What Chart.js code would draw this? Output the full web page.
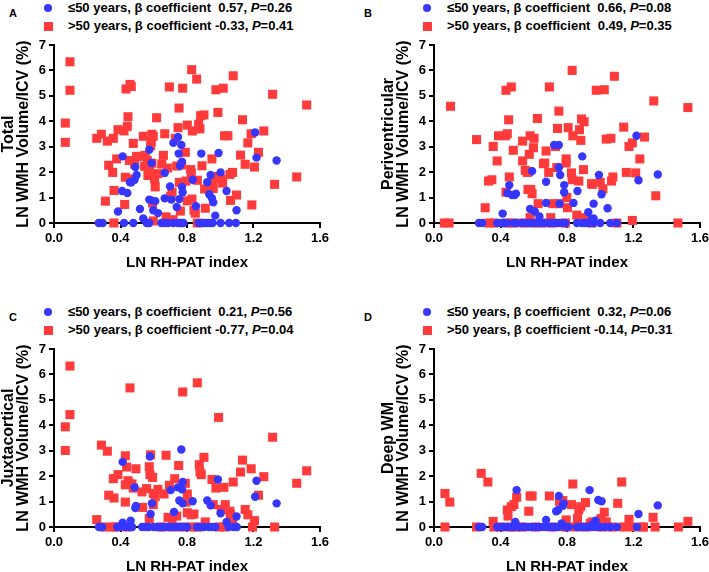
<!DOCTYPE html>
<html>
<head>
<meta charset="utf-8">
<script src="https://cdn.jsdelivr.net/npm/chart.js@4.4.0/dist/chart.umd.min.js"></script>
<style>
  html, body { margin: 0; padding: 0; background: #fff; overflow: hidden; }
  #wrap { position: relative; width: 709px; height: 572px; font-family: "Liberation Sans", Arial, sans-serif; }
  canvas { position: absolute; }
  .letter { position: absolute; font-weight: bold; font-size: 11px; }
  .leg { position: absolute; font-weight: bold; font-size: 13px; line-height: 18px; white-space: pre; }
  .leg .row { position: relative; padding-left: 24px; }
  .leg .dot { position: absolute; left: 0; top: 5px; width: 8px; height: 8px; border-radius: 50%; background: #3636ff; }
  .leg .sq { position: absolute; left: 0; top: 5px; width: 9px; height: 9px; background: #ff3a3a; }
</style>
</head>
<body>
<div id="wrap"></div>
<script>
// x axis ticks and y axis ticks
const xTicks = [0.0, 0.4, 0.8, 1.2, 1.6];
const yTicks = [0, 1, 2, 3, 4, 5, 6, 7];

// panel A: Total  ([LN RH-PAT index, LN WMH volume/ICV])
const totalOld = [[0.068,3.93],[0.068,3.17],[0.096,6.34],[0.096,5.22],[0.257,3.33],[0.285,3.49],[0.309,0.86],[0.321,3.22],
  [0.329,2.27],[0.353,1.99],[0.357,3.33],[0.361,1.28],[0.36,0],[0.377,2.52],[0.385,3.67],[0.421,3.62],[0.429,1.80],[0.425,0.73],
  [0.433,5.27],[0.441,3.80],[0.445,4.18],[0.453,2.46],[0.457,5.45],[0.465,5.37],[0.469,1.73],[0.477,3.13],[0.485,2.31],[0.497,2.62],
  [0.529,2.62],[0.537,3.41],[0.545,2.23],[0.549,2.66],[0.561,2.46],[0.565,1.87],[0.571,2.18],[0.577,1.97],[0.589,3.49],[0.585,3.20],
  [0.581,3.04],[0.589,2.35],[0.593,0.79],[0.597,0.08],[0.597,3.41],[0.605,1.74],[0.609,1.42],[0.617,4.14],[0.625,1.94],[0.648,2.32],
  [0.658,2.66],[0.666,3.51],[0.674,0.24],[0.682,2.16],[0.694,5.35],[0.702,1.05],[0.710,1.21],[0.716,0.13],[0.730,3.33],[0.738,2.24],
  [0.746,3.75],[0.752,4.52],[0.754,1.60],[0.760,0.47],[0.768,2.28],[0.774,5.30],[0.790,2.78],[0.794,1.65],[0.802,3.85],[0.802,0.87],
  [0.822,2.10],[0.826,1.97],[0.828,6.03],[0.830,0.94],[0.832,3.62],[0.842,0.50],[0.850,0.39],[0.858,5.66],[0.862,1.68],[0.862,0],
  [0.870,3.88],[0.878,3.70],[0.882,4.22],[0.890,2.25],[0.902,4.25],[0.906,1.34],[0.910,0.58],[0.950,2.52],[0.954,1.70],[0.958,1.36],
  [0.974,5.24],[0.986,4.35],[0.990,1.83],[1.006,1.73],[1.014,1.57],[1.018,5.30],[1.026,3.43],[1.046,3.43],[1.058,1.91],[1.062,0.89],
  [1.074,1.99],[1.078,5.79],[1.098,1.10],[1.122,2.67],[1.134,4.06],[1.150,2.31],[1.166,3.15],[1.186,3.51],[1.190,0.71],[1.206,2.20],
  [1.230,2.78],[1.262,3.62],[1.315,5.06],[1.327,1.52],[1.460,1.81],[1.520,4.64]];
const totalYoung = [[0.385,0.45],[0.409,1.26],[0.413,2.62],[0.441,1.18],[0.457,1.60],[0.465,1.60],[0.485,1.70],[0.489,2.20],
  [0.497,1.89],[0.517,0.55],[0.537,0.18],[0.573,2.88],[0.573,0.92],[0.585,0.89],[0.587,2.36],[0.597,0.50],[0.609,0.86],[0.625,0.39],
  [0.666,0.97],[0.666,1.97],[0.698,1.44],[0.706,0.92],[0.718,3.15],[0.738,0.63],[0.746,3.38],[0.750,2.73],[0.754,0.94],[0.758,2.25],
  [0.766,3.07],[0.770,2.41],[0.770,1.42],[0.774,1.21],[0.834,1.70],[0.854,0.66],[0.886,2.73],[0.922,1.60],[0.934,1.13],[0.942,1.89],
  [0.950,0.97],[0.958,0.81],[0.970,0.29],[0.990,2.75],[1.002,1.99],[1.038,1.26],[1.098,0.50],[1.210,3.56],[1.218,2.57],[1.339,2.46],
  [0.269,0],[0.293,0],[0.421,0],[0.477,0],[0.557,0],[0.573,0],[0.646,0],[0.662,0],[0.686,0],[0.718,0],[0.746,0],[0.758,0],
  [0.770,0],[0.778,0],[0.870,0],[0.894,0],[0.906,0],[0.926,0],[0.942,0],[0.954,0],[1.002,0],[1.054,0],[1.094,0]];

// panel B: Periventricular
const periOld = [[0.099,4.59],[0.256,3.28],[0.308,0.60],[0.328,1.65],[0.348,1.70],[0.356,3.01],[0.380,2.44],[0.388,3.43],
  [0.429,3.43],[0.433,5.22],[0.441,3.51],[0.449,4.06],[0.453,1.81],[0.433,1.21],[0.465,5.35],[0.477,2.86],[0.533,3.22],[0.533,2.44],
  [0.549,2.07],[0.561,1.99],[0.565,1.32],[0.569,2.02],[0.573,2.70],[0.578,3.43],[0.582,1.32],[0.590,1.15],[0.578,0.21],[0.598,2.96],
  [0.602,3.33],[0.622,4.11],[0.626,0.76],[0.658,2.33],[0.666,2.36],[0.674,2.83],[0.690,1.99],[0.694,5.35],[0.702,0.21],[0.714,0.76],
  [0.731,3.01],[0.739,2.18],[0.743,3.72],[0.751,4.40],[0.755,0.76],[0.795,2.52],[0.795,2.36],[0.799,1.00],[0.803,0.60],[0.807,3.75],
  [0.827,1.97],[0.831,1.70],[0.835,3.43],[0.831,6.00],[0.859,0.31],[0.871,1.65],[0.875,3.67],[0.883,3.25],[0.887,4.09],[0.899,2.10],
  [0.903,3.98],[0.911,0.21],[0.948,1.55],[0.952,1.52],[0.976,5.22],[1.000,1.60],[1.016,1.34],[1.024,5.24],[1.036,3.30],[1.064,3.33],
  [1.068,1.65],[1.076,1.81],[1.085,5.77],[1.141,3.77],[1.157,1.99],[1.173,3.01],[1.193,3.15],[1.193,0.10],[1.213,1.97],[1.238,2.52],
  [1.266,3.38],[1.322,4.80],[1.334,1.07],[1.527,4.54],
  [0.062,0],[0.091,0],[0.33,0],[0.36,0],[0.44,0],[0.478,0],[0.54,0],[0.60,0],[0.65,0],[0.71,0],[0.79,0],[0.95,0],[1.10,0],[1.467,0]];
const periYoung = [[0.413,0.37],[0.453,1.49],[0.441,1.18],[0.469,1.10],[0.485,1.10],[0.493,1.15],[0.578,0.55],[0.590,2.04],
  [0.606,0.45],[0.634,0.26],[0.674,1.62],[0.674,0.79],[0.723,3.07],[0.751,3.07],[0.751,2.18],[0.759,1.89],[0.755,0.76],[0.783,1.49],
  [0.783,1.21],[0.839,0.79],[0.863,1.26],[0.892,2.62],[0.928,0.42],[0.960,0.76],[0.992,1.89],[1.008,1.13],[1.044,0.58],[1.218,3.43],
  [1.230,1.68],[1.346,1.91],[0.948,0.13],[0.960,0.18],
  [0.27,0],[0.29,0],[0.38,0],[0.40,0],[0.42,0],[0.44,0],[0.48,0],[0.50,0],[0.53,0],[0.55,0],[0.57,0],[0.59,0],[0.61,0],[0.64,0],
  [0.66,0],[0.69,0],[0.71,0],[0.73,0],[0.75,0],[0.77,0],[0.79,0],[0.86,0],[0.89,0],[0.91,0],[0.93,0],[0.96,0],[1.00,0],[1.06,0],[1.10,0]];

// panel C: Juxtacortical
const juxtaOld = [[0.068,3.94],[0.068,3.01],[0.096,6.33],[0.096,4.42],[0.257,0.29],[0.285,3.22],[0.321,2.98],[0.329,1.25],
  [0.357,1.90],[0.361,1.14],[0.385,2.06],[0.429,2.80],[0.429,1.66],[0.429,0.98],[0.437,2.36],[0.445,1.82],[0.453,1.72],[0.457,5.47],
  [0.469,1.69],[0.477,1.53],[0.493,2.29],[0.529,1.38],[0.533,0.77],[0.557,1.51],[0.573,2.37],[0.577,2.06],[0.581,2.84],[0.573,0.33],
  [0.593,1.95],[0.597,1.32],[0.597,0.88],[0.609,1.19],[0.625,1.48],[0.662,1.30],[0.674,2.82],[0.686,0.38],[0.694,1.64],[0.710,0.28],
  [0.726,1.90],[0.738,0.43],[0.750,2.42],[0.774,5.31],[0.790,1.72],[0.794,0.98],[0.802,0.56],[0.802,1.30],[0.826,0.48],[0.842,0.51],
  [0.862,5.67],[0.874,2.45],[0.878,2.16],[0.886,2.06],[0.902,2.74],[0.910,0.20],[0.950,1.87],[0.958,0.88],[0.974,1.53],[0.990,4.31],
  [1.006,0.69],[1.022,1.56],[1.030,0.88],[1.058,0.62],[1.062,0.48],[1.066,0.35],[1.074,0.20],[1.078,1.77],[1.122,2.16],[1.134,2.63],
  [1.150,0.69],[1.166,0.48],[1.186,2.29],[1.206,0.25],[1.230,1.25],[1.262,1.98],[1.315,3.53],[1.460,1.72],[1.520,2.21],
  [0.303,0],[0.353,0],[0.369,0],[0.441,0],[0.646,0],[0.714,0],[0.774,0],[0.826,0],[0.866,0],[0.994,0],[1.022,0],[1.194,0],[1.327,0]];
const juxtaYoung = [[0.413,2.56],[0.413,0.17],[0.461,0.25],[0.485,1.56],[0.489,0.75],[0.493,0.83],[0.577,2.77],[0.581,0.51],
  [0.589,0.93],[0.702,1.45],[0.722,0.59],[0.746,1.56],[0.754,1.04],[0.766,3.05],[0.770,1.48],[0.774,1.77],[0.774,0.93],[0.834,1.01],
  [0.922,1.04],[0.942,0.85],[0.986,1.87],[1.002,0.54],[1.038,0.20],[1.098,0.41],[1.210,1.19],[1.218,1.82],[1.339,0.93],
  [0.27,0],[0.29,0],[0.38,0],[0.40,0],[0.43,0],[0.45,0],[0.47,0],[0.53,0],[0.55,0],[0.57,0],[0.60,0],[0.62,0],[0.64,0],[0.66,0],
  [0.68,0],[0.70,0],[0.72,0],[0.74,0],[0.76,0],[0.78,0],[0.80,0],[0.86,0],[0.88,0],[0.90,0],[0.93,0],[0.95,0],[0.97,0],[1.05,0],[1.08,0],[1.10,0]];

// panel D: Deep WM
const deepOld = [[0.066,1.32],[0.095,0.98],[0.284,2.11],[0.324,1.77],[0.356,0.22],[0.441,0.67],[0.445,0.43],[0.465,0.80],
  [0.481,0.88],[0.497,1.17],[0.570,0.62],[0.578,1.22],[0.590,1.22],[0.694,1.22],[0.755,1.01],[0.775,1.04],[0.795,0.28],[0.827,0.88],
  [0.835,1.69],[0.863,0.33],[0.871,0.67],[0.883,0.80],[0.911,0.96],[0.940,0.14],[0.952,0.20],[1.004,0.33],[1.024,0.58],[1.036,0.20],
  [1.105,0.93],[1.129,1.77],[1.173,0.30],[1.318,0.38],[1.527,0.22],
  [0.066,0],[0.256,0],[0.36,0],[0.40,0],[0.46,0],[0.49,0],[0.53,0],[0.61,0],[0.71,0],[0.79,0],[0.85,0],[0.91,0],[1.01,0],[1.07,0],
  [1.14,0],[1.19,0],[1.25,0],[1.26,0],[1.33,0],[1.47,0]];
const deepYoung = [[0.497,1.45],[0.489,0.20],[0.674,0.28],[0.735,0.62],[0.747,0.67],[0.751,1.22],[0.775,0.83],[0.779,0.93],
  [0.767,0.14],[0.936,1.45],[0.972,0.25],[0.988,1.06],[1.008,1.01],[0.952,0.09],[1.230,0.51],[1.346,0.85],
  [0.27,0],[0.29,0],[0.38,0],[0.40,0],[0.42,0],[0.44,0],[0.46,0],[0.48,0],[0.51,0],[0.53,0],[0.55,0],[0.57,0],[0.59,0],[0.61,0],
  [0.63,0],[0.65,0],[0.67,0],[0.69,0],[0.71,0],[0.73,0],[0.75,0],[0.79,0],[0.81,0],[0.86,0],[0.88,0],[0.90,0],[0.92,0],[0.94,0],
  [0.96,0],[0.98,0],[1.00,0],[1.03,0],[1.06,0],[1.10,0],[1.22,0]];

const panels = [
  { letter: 'A', title: 'Total', left: 0, top: 0, young: totalYoung, old: totalOld,
    yb: '0.57', yp: '0.26', ob: '-0.33', op: '0.41' },
  { letter: 'B', title: 'Periventricular', left: 380, top: 0, young: periYoung, old: periOld,
    yb: '0.66', yp: '0.08', ob: ' 0.49', op: '0.35' },
  { letter: 'C', title: 'Juxtacortical', left: 0, top: 304, young: juxtaYoung, old: juxtaOld,
    yb: '0.21', yp: '0.56', ob: '-0.77', op: '0.04' },
  { letter: 'D', title: 'Deep WM', left: 380, top: 304, young: deepYoung, old: deepOld,
    yb: '0.32', yp: '0.06', ob: '-0.14', op: '0.31' }
];

const blue = '#3636ff';
const red = '#ff3a3a';
const wrap = document.getElementById('wrap');

panels.forEach(p => {
  // panel letter
  const lt = document.createElement('div');
  lt.className = 'letter';
  lt.textContent = p.letter;
  lt.style.left = (p.left === 0 ? 9 : 364) + 'px';
  lt.style.top = (p.top + 7) + 'px';
  wrap.appendChild(lt);

  // legend with italic P
  const leg = document.createElement('div');
  leg.className = 'leg';
  leg.style.left = (p.left === 0 ? 44 : 423) + 'px';
  leg.style.top = (p.top - 1) + 'px';
  leg.innerHTML =
    '<div class="row"><span class="dot"></span>\u226450 years, \u03b2 coefficient  ' + p.yb + ', <i>P</i>=' + p.yp + '</div>' +
    '<div class="row"><span class="sq"></span>&gt;50 years, \u03b2 coefficient ' + p.ob + ', <i>P</i>=' + p.op + '</div>';
  wrap.appendChild(leg);

  const cv = document.createElement('canvas');
  cv.width = 340;
  cv.height = 256;
  cv.style.left = p.left + 'px';
  cv.style.top = (p.top + 20) + 'px';
  wrap.appendChild(cv);

  new Chart(cv, {
    type: 'scatter',
    data: {
      datasets: [
        {
          label: '\u226450 years',
          data: p.young.map(d => ({ x: d[0], y: d[1] })),
          backgroundColor: blue,
          borderWidth: 0,
          pointStyle: 'circle',
          pointRadius: 4.2,
          clip: false
        },
        {
          label: '>50 years',
          data: p.old.map(d => ({ x: d[0], y: d[1] })),
          backgroundColor: red,
          borderWidth: 0,
          pointStyle: 'rect',
          pointRadius: 6.4,
          clip: false
        }
      ]
    },
    options: {
      responsive: false,
      animation: false,
      layout: { padding: { top: 25, right: 20, left: 0, bottom: 0 } },
      plugins: { legend: { display: false }, tooltip: { enabled: false } },
      scales: {
        x: {
          type: 'linear',
          min: xTicks[0],
          max: xTicks[xTicks.length - 1],
          afterBuildTicks: s => { s.ticks = xTicks.map(v => ({ value: v })); },
          afterFit: s => { s.height = 53; },
          grid: { drawOnChartArea: false, color: '#000', lineWidth: 2, tickLength: 5 },
          border: { color: '#000', width: 2 },
          ticks: {
            color: '#000',
            font: { family: 'Liberation Sans, Arial', size: 13, weight: 'bold' },
            padding: 3,
            maxRotation: 0,
            callback: v => Number(v).toFixed(1)
          },
          title: {
            display: true,
            text: 'LN RH-PAT index',
            color: '#000',
            font: { family: 'Liberation Sans, Arial', size: 15, weight: 'bold' },
            padding: { top: 0, bottom: 4 }
          }
        },
        y: {
          type: 'linear',
          min: yTicks[0],
          max: yTicks[yTicks.length - 1],
          afterBuildTicks: s => { s.ticks = yTicks.map(v => ({ value: v })); },
          afterFit: s => { s.width = 54; },
          grid: { drawOnChartArea: false, color: '#000', lineWidth: 2, tickLength: 5 },
          border: { color: '#000', width: 2 },
          ticks: {
            color: '#000',
            font: { family: 'Liberation Sans, Arial', size: 13, weight: 'bold' },
            padding: 3
          },
          title: {
            display: true,
            text: [p.title, 'LN WMH Volume/ICV (%)'],
            color: '#000',
            font: { family: 'Liberation Sans, Arial', size: 16, weight: 'bold', lineHeight: 0.95 },
            padding: { top: 1, bottom: 0 }
          }
        }
      }
    }
  });
});
</script>
</body>
</html>
